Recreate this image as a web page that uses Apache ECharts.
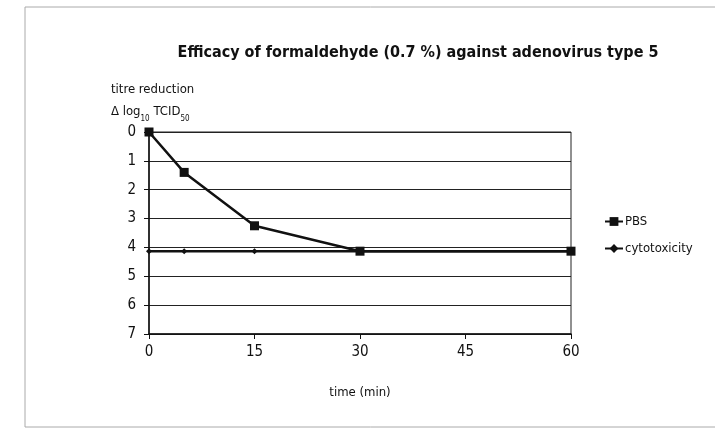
<!DOCTYPE html>
<html>
<head>
<meta charset="utf-8">
<script src="https://cdn.jsdelivr.net/npm/echarts@6/dist/echarts.min.js"></script>
<style>
  html, body { margin: 0; padding: 0; background: #fff; }
  #chart { width: 715px; height: 430px; }
</style>
</head>
<body>
<div id="chart"></div>
<script>
const times = [0, 5, 15, 30, 60];
const pbs = [0, 1.4, 3.25, 4.13, 4.13];
const cytotoxicity = [4.13, 4.13, 4.13, 4.13, 4.13];
const xTicks = [0, 15, 30, 45, 60];

const font = "'Liberation Sans Narrow', 'DejaVu Sans Condensed', sans-serif";
const chart = echarts.init(document.getElementById('chart'));

chart.setOption({
  animation: false,
  backgroundColor: '#fff',
  textStyle: { fontFamily: font, color: '#111' },
  graphic: [{
    type: 'rect', silent: true,
    shape: { x: 25, y: 7, width: 700, height: 420 },
    style: { fill: 'none', stroke: '#aaa', lineWidth: 1 }
  }],
  title: [{
    text: 'Efficacy of formaldehyde (0.7 %) against adenovirus type 5',
    left: 413, top: 40, textAlign: 'center',
    textStyle: { fontFamily: font, fontSize: 16, fontWeight: 'bold', color: '#111' }
  }, {
    text: 'titre reduction\n{n|Δ log}{s|10}{n| TCID}{s|50}',
    left: 111, top: 79, padding: 0,
    textStyle: {
      fontFamily: font, fontSize: 13, fontWeight: 'normal', color: '#111', lineHeight: 22,
      rich: {
        n: { fontFamily: font, fontSize: 13, color: '#111' },
        s: { fontFamily: font, fontSize: 8, color: '#111', verticalAlign: 'bottom', padding: [2, 0, 0, 0] }
      }
    }
  }],
  legend: {
    orient: 'vertical', left: 604, top: 215, itemGap: 14, padding: 0,
    itemWidth: 18, itemHeight: 11,
    textStyle: { fontFamily: font, fontSize: 13, color: '#111', padding: [0, 0, 0, -3] },
    data: ['PBS', 'cytotoxicity']
  },
  grid: {
    left: 149, right: 144, top: 132, bottom: 96,
    show: true, borderColor: '#222', borderWidth: 1
  },
  xAxis: {
    type: 'value', min: 0, max: 60, interval: 15,
    name: 'time (min)', nameLocation: 'middle', nameGap: 52,
    nameTextStyle: { fontFamily: font, fontSize: 13, color: '#111' },
    axisLine: { onZero: false, lineStyle: { color: '#111', width: 1.5 } },
    axisTick: { show: true, length: 5, lineStyle: { color: '#111' } },
    axisLabel: { fontFamily: font, fontSize: 15, color: '#111', margin: 11,
      formatter: v => xTicks.includes(v) ? String(v) : '' },
    splitLine: { show: false }
  },
  yAxis: {
    type: 'value', inverse: true, min: 0, max: 7, interval: 1,
    axisLine: { show: true, onZero: false, lineStyle: { color: '#111', width: 1.5 } },
    axisTick: { show: true, length: 5, lineStyle: { color: '#111' } },
    axisLabel: { fontFamily: font, fontSize: 15, color: '#111', margin: 13 },
    splitLine: { show: true, lineStyle: { color: '#222', width: 1 } }
  },
  series: [{
    name: 'PBS', type: 'line',
    data: times.map((t, i) => [t, pbs[i]]),
    symbol: 'rect', symbolSize: 9,
    itemStyle: { color: '#111' },
    lineStyle: { color: '#111', width: 2.5 },
    z: 3
  }, {
    name: 'cytotoxicity', type: 'line',
    data: times.map((t, i) => [t, cytotoxicity[i]]),
    symbol: 'diamond', symbolSize: 6,
    itemStyle: { color: '#111' },
    lineStyle: { color: '#111', width: 2.5 },
    z: 2
  }]
});
</script>
</body>
</html>
